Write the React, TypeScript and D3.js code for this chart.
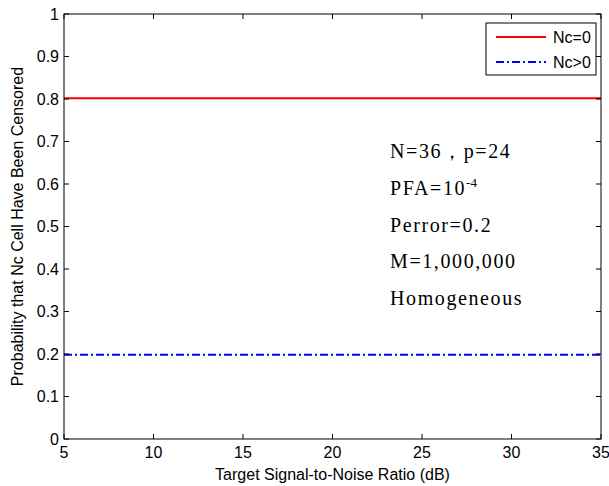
import React from 'react';
import * as d3 from 'd3';

// values
const snrDb = [5, 10, 15, 20, 25, 30, 35];
const probNc0 = [0.802, 0.802, 0.802, 0.802, 0.802, 0.802, 0.802];
const probNcPos = [0.198, 0.198, 0.198, 0.198, 0.198, 0.198, 0.198];
const xTicks = [5, 10, 15, 20, 25, 30, 35];
const yTicks = [0, 0.1, 0.2, 0.3, 0.4, 0.5, 0.6, 0.7, 0.8, 0.9, 1];
const seriesNames = ['Nc=0', 'Nc>0'];
const notes = ['N=36，p=24', 'PFA=10', 'Perror=0.2', 'M=1,000,000', 'Homogeneous'];

const W = 609;
const H = 486;
const margin = { top: 14, right: 8, bottom: 47, left: 64 };
const sans = '"Liberation Sans", Arial, sans-serif';
const serif = '"Liberation Serif", "Times New Roman", serif';

export default function App() {
  const x = d3.scaleLinear().domain([5, 35]).range([margin.left, W - margin.right]);
  const y = d3.scaleLinear().domain([0, 1]).range([H - margin.bottom, margin.top]);
  const [x0, x1] = x.range();
  const [y0, y1] = y.range();

  const line = d3.line<number>()
    .x((_, i) => x(snrDb[i]))
    .y(d => y(d));

  const tick = 5;

  return (
    <svg
      width={W}
      height={H}
      style={{ position: 'absolute', left: 0, top: 0, background: '#fff', display: 'block' }}
    >
      <rect x={0} y={0} width={W} height={H} fill="#fff" />

      {/* series */}
      <path d={line(probNc0) || ''} fill="none" stroke="#ff0000" strokeWidth={2} />
      <path d={line(probNcPos) || ''} fill="none" stroke="#0000ff" strokeWidth={2}
        strokeDasharray="8,3,2,3" />

      {/* box */}
      <rect x={x0} y={y1} width={x1 - x0} height={y0 - y1} fill="none" stroke="#000" strokeWidth={1} />

      {/* x ticks */}
      {xTicks.map(t => (
        <g key={'x' + t}>
          <line x1={x(t)} x2={x(t)} y1={y0} y2={y0 - tick} stroke="#000" />
          <line x1={x(t)} x2={x(t)} y1={y1} y2={y1 + tick} stroke="#000" />
          <text x={x(t)} y={y0 + 19} textAnchor="middle" fontFamily={sans} fontSize={16}>{t}</text>
        </g>
      ))}

      {/* y ticks */}
      {yTicks.map(t => (
        <g key={'y' + t}>
          <line x1={x0} x2={x0 + tick} y1={y(t)} y2={y(t)} stroke="#000" />
          <line x1={x1} x2={x1 - tick} y1={y(t)} y2={y(t)} stroke="#000" />
          <text x={x0 - 5} y={y(t)} dy="0.36em" textAnchor="end" fontFamily={sans} fontSize={16}>
            {d3.format('~g')(t)}
          </text>
        </g>
      ))}

      {/* axis labels */}
      <text x={(x0 + x1) / 2} y={480} textAnchor="middle" fontFamily={sans} fontSize={16}>
        Target Signal-to-Noise Ratio (dB)
      </text>
      <text transform={`translate(23,${(y0 + y1) / 2}) rotate(-90)`} textAnchor="middle"
        fontFamily={sans} fontSize={16}>
        Probability that Nc Cell Have Been Censored
      </text>

      {/* legend */}
      <g>
        <rect x={486} y={23} width={110} height={52} fill="#fff" stroke="#000" strokeWidth={1} />
        <line x1={496} x2={546} y1={37} y2={37} stroke="#ff0000" strokeWidth={2} />
        <text x={553} y={43} fontFamily={sans} fontSize={16}>{seriesNames[0]}</text>
        <line x1={496} x2={546} y1={62} y2={62} stroke="#0000ff" strokeWidth={2} strokeDasharray="8,3,2,3" />
        <text x={553} y={68} fontFamily={sans} fontSize={16}>{seriesNames[1]}</text>
      </g>

      {/* annotation */}
      <g fontFamily={serif} fontSize={20} letterSpacing={1.6}>
        {notes.map((n, i) => (
          <text key={n} x={390} y={158 + i * 36.8}>
            {n}
            {i === 1 && (
              <tspan fontSize={13} dy={-8} letterSpacing={0}>-4</tspan>
            )}
          </text>
        ))}
      </g>
    </svg>
  );
}
